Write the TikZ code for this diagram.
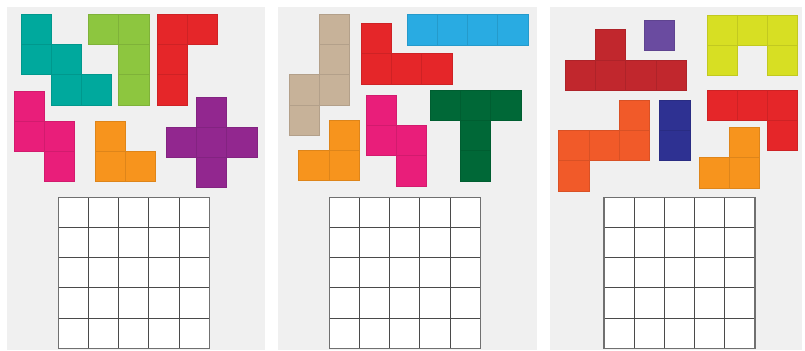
\documentclass[tikz,border=0pt]{standalone}
\definecolor{panelbg}{HTML}{F0F0F0}
\definecolor{cteal}{HTML}{00A99D}
\definecolor{cgreen}{HTML}{8DC63F}
\definecolor{cred}{HTML}{E52629}
\definecolor{cpink}{HTML}{E91E7A}
\definecolor{corange}{HTML}{F7941D}
\definecolor{cpurple}{HTML}{92278F}
\definecolor{ctan}{HTML}{C7B299}
\definecolor{cblue}{HTML}{29ABE2}
\definecolor{cdkgreen}{HTML}{006837}
\definecolor{cdkred}{HTML}{C1272D}
\definecolor{cviolet}{HTML}{6A4BA0}
\definecolor{cyellow}{HTML}{D7DF23}
\definecolor{corred}{HTML}{F15A29}
\definecolor{cnavy}{HTML}{2E3192}
\definecolor{gridline}{HTML}{4A4A4A}
\definecolor{gridouter}{HTML}{707070}
\newcommand{\cellsz}{30.3}
\newcommand{\polypiece}[4]{%
  \foreach \cx/\cy in {#4} {
    \fill[#1] ({#2+\cx*\cellsz},{#3+\cy*\cellsz}) rectangle ++(\cellsz,\cellsz);
  }
  \foreach \cx/\cy in {#4} {
    \draw[#1!90!black, line width=0.3pt] ({#2+\cx*\cellsz},{#3+\cy*\cellsz}) rectangle ++(\cellsz,\cellsz);
  }
}
\newcommand{\fivegrid}[2]{%
  \fill[white] (#1,#2) rectangle ++(151,151);
  \foreach \k in {1,2,3,4} {
    \draw[gridline, line width=0.75pt] ({#1+\k*30.2},#2) -- ++(0,151);
    \draw[gridline, line width=0.75pt] (#1,{#2+\k*30.2}) -- ++(151,0);
  }
  \draw[gridouter, line width=1.1pt] (#1,#2) rectangle ++(151,151);
}
\begin{document}
\begin{tikzpicture}[x=0.75pt,y=-0.75pt]
\useasboundingbox (0,0) rectangle (805,350);
\fill[white] (0,0) rectangle (805,350);
% panels
\fill[panelbg] (7,7) rectangle (265,350);
\fill[panelbg] (278,7) rectangle (537,350);
\fill[panelbg] (550,7) rectangle (802,350);
% panel 1 pieces
\polypiece{cteal}{20.7}{14}{0/0,0/1,1/1,1/2,2/2}
\polypiece{cgreen}{88.3}{14}{0/0,1/0,1/1,1/2}
\polypiece{cred}{156.7}{14}{0/0,1/0,0/1,0/2}
\polypiece{cpink}{14}{90.7}{0/0,0/1,1/1,1/2}
\polypiece{corange}{95}{120.7}{0/0,0/1,1/1}
\polypiece{cpurple}{166}{96.7}{1/0,0/1,1/1,2/1,1/2}
% panel 2 pieces
\polypiece{ctan}{289}{14}{1/0,1/1,1/2,0/2,0/3}
\polypiece{cred}{361}{23.3}{0/0,0/1,1/1,2/1}
\polypiece{cblue}{406.7}{14.5}{0/0,1/0,2/0,3/0}
\polypiece{corange}{298.5}{120}{1/0,0/1,1/1}
\polypiece{cpink}{366}{95}{0/0,0/1,1/1,1/2}
\polypiece{cdkgreen}{430}{90}{0/0,1/0,2/0,1/1,1/2}
% panel 3 pieces
\polypiece{cdkred}{565}{29.5}{1/0,0/1,1/1,2/1,3/1}
\polypiece{cviolet}{644}{20}{0/0}
\polypiece{cyellow}{706.7}{14.7}{0/0,1/0,2/0,0/1,2/1}
\polypiece{cred}{706.7}{90}{0/0,1/0,2/0,2/1}
\polypiece{corred}{558.5}{100}{2/0,0/1,1/1,2/1,0/2}
\polypiece{cnavy}{659.5}{100}{0/0,0/1}
\polypiece{corange}{699}{127.3}{1/0,0/1,1/1}
% grids
\fivegrid{58.3}{197.3}
\fivegrid{329.3}{197.3}
\fivegrid{604}{197.3}
\end{tikzpicture}
\end{document}
